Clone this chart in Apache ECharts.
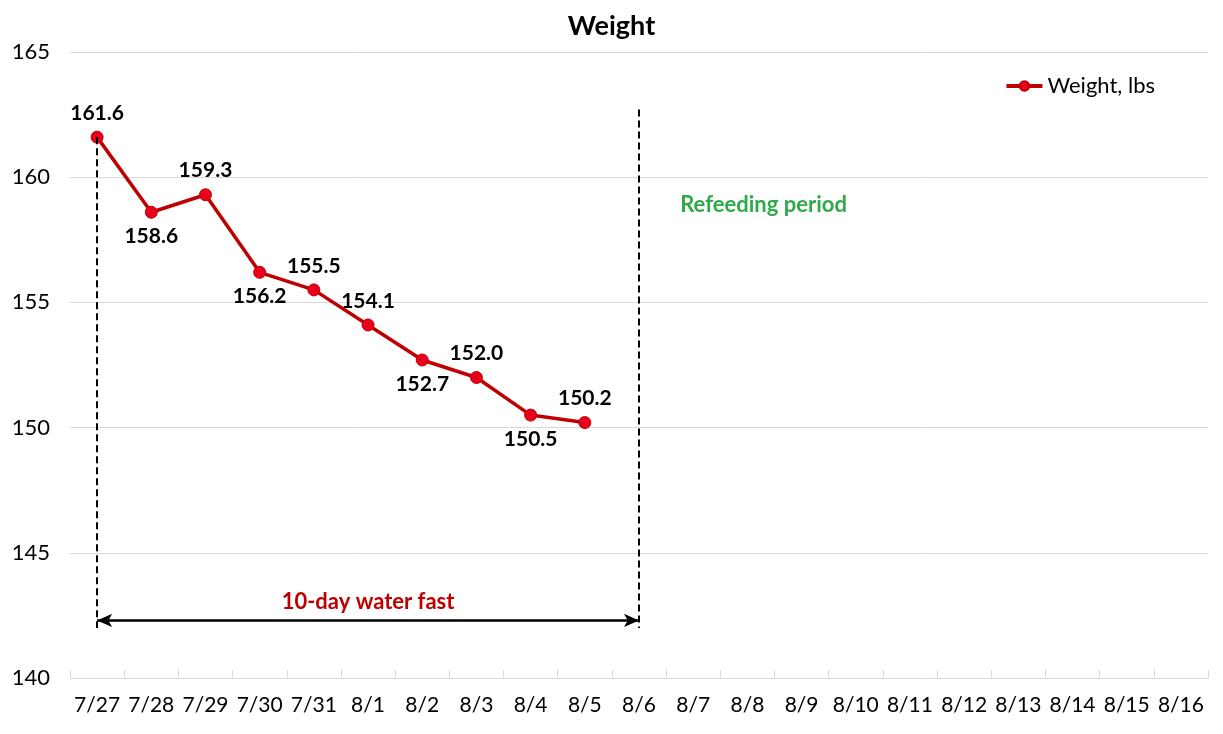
<!DOCTYPE html>
<html>
<head>
<meta charset="utf-8">
<script src="https://cdn.jsdelivr.net/npm/echarts@6/dist/echarts.min.js"></script>
<style>
html,body{margin:0;padding:0;background:#fff;}
#c{width:1223px;height:734px;}
</style>
</head>
<body>
<div id="c"></div>
<script>
const categories = ['7/27','7/28','7/29','7/30','7/31','8/1','8/2','8/3','8/4','8/5','8/6','8/7','8/8','8/9','8/10','8/11','8/12','8/13','8/14','8/15','8/16'];
const weights = [161.6, 158.6, 159.3, 156.2, 155.5, 154.1, 152.7, 152.0, 150.5, 150.2];
const yTicks = {min: 140, max: 165, interval: 5};
const fastStart = '7/27';
const fastEnd = '8/6';
const fastLabel = '10-day water fast';
const refeedLabel = 'Refeeding period';
const seriesName = 'Weight, lbs';
const titleText = 'Weight';

const FONT = 'Lato, "Noto Sans", sans-serif';
const labelSide = ['top','bottom','top','bottom','top','top','bottom','top','bottom','top'];

const seriesData = categories.map((c, i) => {
  if (i >= weights.length) return null;
  return { value: weights[i], label: { position: labelSide[i] } };
});

const chart = echarts.init(document.getElementById('c'), null, {renderer: 'canvas'});
chart.setOption({
  animation: false,
  backgroundColor: '#fff',
  title: {
    text: titleText, left: 'center', top: 8,
    textStyle: {fontFamily: FONT, fontSize: 27, fontWeight: 'bold', color: '#000'}
  },
  legend: {
    data: [seriesName], right: 63, top: 70, itemWidth: 36, itemHeight: 12, itemGap: 4,
    lineStyle: {width: 4, color: '#C00000'},
    textStyle: {fontFamily: FONT, fontSize: 22, color: '#000'}
  },
  grid: {left: 70, right: 15, top: 52, bottom: 56, containLabel: false},
  xAxis: {
    type: 'category', data: categories, boundaryGap: true,
    axisLine: {lineStyle: {color: '#D9D9D9', width: 1}},
    axisTick: {show: true, inside: true, length: 8, lineStyle: {color: '#D9D9D9'}},
    axisLabel: {fontFamily: FONT, fontSize: 21, color: '#000', margin: 17, interval: 0}
  },
  yAxis: {
    type: 'value', min: yTicks.min, max: yTicks.max, interval: yTicks.interval,
    axisLine: {show: false}, axisTick: {show: false},
    splitLine: {lineStyle: {color: '#D9D9D9', width: 1}},
    axisLabel: {fontFamily: FONT, fontSize: 22, color: '#000', margin: 20}
  },
  series: [{
    name: seriesName, type: 'line', data: seriesData,
    symbol: 'circle', symbolSize: 12, connectNulls: false,
    lineStyle: {color: '#C00000', width: 3.5},
    itemStyle: {color: '#E8001C', borderColor: '#C00000', borderWidth: 1},
    label: {
      show: true, distance: 7, fontFamily: FONT, fontSize: 21, fontWeight: 'bold', color: '#000',
      formatter: p => p.value.toFixed(1)
    },
    markLine: {
      silent: true, symbol: ['none','none'], animation: false,
      label: {show: false},
      lineStyle: {color: '#000', type: [7,4], width: 2},
      data: [
        [{coord: [fastStart, weights[0]]}, {coord: [fastStart, 142.0]}],
        [{coord: [fastEnd, 162.7]}, {coord: [fastEnd, 142.0]}],
        [{coord: [fastStart, 142.3], symbol: 'arrow', symbolSize: [10, 15],
          lineStyle: {type: 'solid', width: 2.5, color: '#000'},
          label: {show: true, position: 'middle', formatter: fastLabel, distance: 8,
                  fontFamily: FONT, fontSize: 22, fontWeight: 'bold', color: '#C00000'}},
         {coord: [fastEnd, 142.3], symbol: 'arrow', symbolSize: [10, 15]}]
      ]
    },
    markPoint: {
      silent: true, symbol: 'circle', symbolSize: 0,
      data: [{coord: ['8/7', 158.9], value: refeedLabel,
        label: {show: true, position: 'inside', align: 'left', offset: [-13, 0],
                formatter: refeedLabel, fontFamily: FONT, fontSize: 22, fontWeight: 'bold', color: '#2FAA4A'}}]
    }
  }]
});
</script>
</body>
</html>
